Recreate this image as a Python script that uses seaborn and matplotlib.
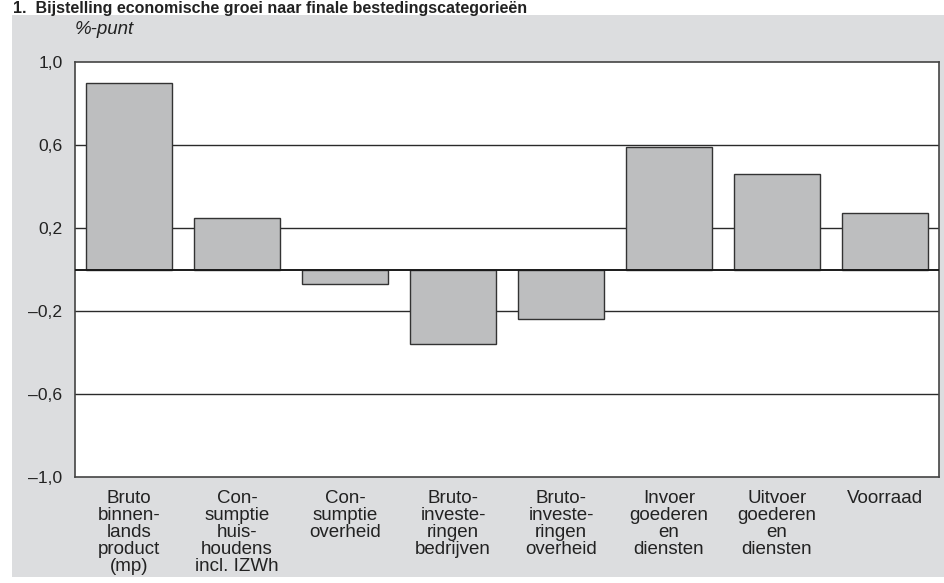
import numpy as np
import pandas as pd
import seaborn as sns
import matplotlib.pyplot as plt
from matplotlib.patches import Rectangle

# data
categories = [
    'Bruto\nbinnen-\nlands\nproduct\n(mp)',
    'Con-\nsumptie\nhuis-\nhoudens\nincl. IZWh',
    'Con-\nsumptie\noverheid',
    'Bruto-\ninveste-\nringen\nbedrijven',
    'Bruto-\ninveste-\nringen\noverheid',
    'Invoer\ngoederen\nen\ndiensten',
    'Uitvoer\ngoederen\nen\ndiensten',
    'Voorraad',
]
values = [0.90, 0.25, -0.07, -0.36, -0.24, 0.59, 0.46, 0.27]
yticks = [-1.0, -0.6, -0.2, 0.2, 0.6, 1.0]
ytick_labels = ['\u20131,0', '\u20130,6', '\u20130,2', '0,2', '0,6', '1,0']

df = pd.DataFrame({'categorie': categories, 'waarde': values})

sns.set_style('white')
plt.rcParams['font.family'] = ['Liberation Sans', 'DejaVu Sans']

W, H = 944, 583
fig = plt.figure(figsize=(W / 100, H / 100), dpi=100)

# grey panel behind the chart
fig.patches.append(Rectangle((12 / W, 6 / H), 1 - 12 / W, (H - 6 - 15) / H,
                             transform=fig.transFigure, facecolor='#dcdddf',
                             edgecolor='none', zorder=-10))

ax = fig.add_axes([75 / W, (H - 477) / H, (939 - 75) / W, (477 - 62) / H])
ax.set_facecolor('white')

for y in [-0.6, -0.2, 0.2, 0.6]:
    ax.axhline(y, color='#2a2a2a', lw=1.0, zorder=0)

sns.barplot(data=df, x='categorie', y='waarde', color='#bdbebf',
            saturation=1, width=0.8, edgecolor='#333333', linewidth=1.0,
            ax=ax, zorder=2)
ax.axhline(0, color='#1a1a1a', lw=1.4, zorder=3)

ax.set_xlim(-0.5, 7.5)
ax.set_ylim(-1.0, 1.0)
ax.set_yticks(yticks)
ax.set_yticklabels(ytick_labels, fontsize=12.6, color='#222222')
ax.tick_params(axis='y', length=0, pad=9)
ax.tick_params(axis='x', length=0, pad=9.5)
ax.set_xticks(range(len(categories)))
ax.set_xticklabels(categories, fontsize=13.5, color='#222222',
                   linespacing=1.0, va='top', ha='center')
ax.set_xlabel('')
ax.set_ylabel('')

for side in ['top', 'bottom', 'left', 'right']:
    ax.spines[side].set_visible(True)
    ax.spines[side].set_color('#444444')
    ax.spines[side].set_linewidth(1.2)

fig.text(75 / W, 1 - 30 / H, '%-punt', fontsize=13.5, style='italic',
         color='#222222', va='center', ha='left')
fig.text(13 / W, 1 - 1 / H,
         '1.  Bijstelling economische groei naar finale bestedingscategorie\u00ebn',
         fontsize=11.5, fontweight='bold', color='#222222',
         va='top', ha='left')

fig.savefig('out.png', dpi=100)
